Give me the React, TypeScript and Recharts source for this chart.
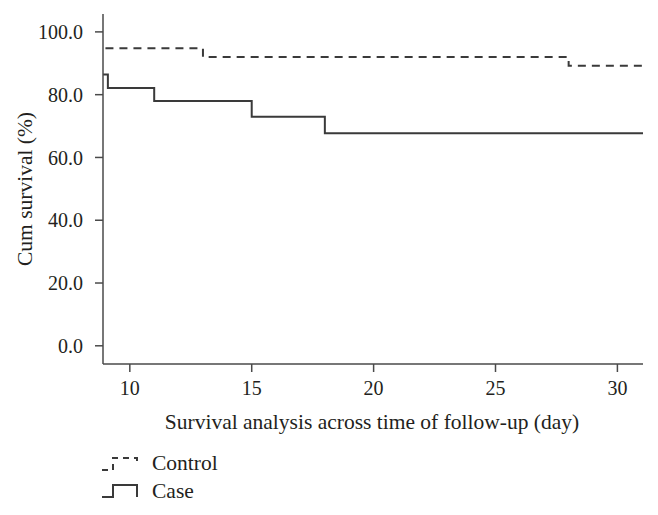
import { LineChart, Line, XAxis, YAxis } from 'recharts';

// Kaplan-Meier steps
const controlDays = [9, 13, 28, 31.05];
const controlSurvival = [94.8, 92.0, 89.2, 89.2];
const caseDays = [8.9, 9.1, 11, 15, 18, 31.05];
const caseSurvival = [86.4, 82.1, 78.0, 73.0, 67.7, 67.7];

const xTicks = [10, 15, 20, 25, 30];
const yTicks = [0, 20, 40, 60, 80, 100];
const xDomain = [8.9, 31.05];
const yDomain = [-5.8, 105.7];

const controlData = controlDays.map((d, i) => ({ day: d, value: controlSurvival[i] }));
const caseData = caseDays.map((d, i) => ({ day: d, value: caseSurvival[i] }));

const FONT = '"Liberation Serif", "DejaVu Serif", serif';
const INK = '#231f20';
const LINE = '#3a3a3a';

const YLabel = () => (
  <text
    x={32}
    y={189}
    transform="rotate(-90, 32, 189)"
    textAnchor="middle"
    fontFamily={FONT}
    fontSize={21.5}
    fill={INK}
  >
    Cum survival (%)
  </text>
);

const XLabel = () => (
  <text x={372} y={429} textAnchor="middle" fontFamily={FONT} fontSize={21.5} fill={INK}>
    Survival analysis across time of follow-up (day)
  </text>
);

const LegendBox = () => (
  <svg width={200} height={60} style={{ position: 'absolute', left: 100, top: 450 }}>
    <g stroke={LINE} strokeWidth={2} fill="none">
      <path d="M2 20 H13 V8 H37 V14" strokeDasharray="6 5" />
      <path d="M2 47 H13 V35 H37 V47" />
    </g>
    <text x={52} y={20} fontFamily={FONT} fontSize={21.5} fill={INK}>Control</text>
    <text x={52} y={48} fontFamily={FONT} fontSize={21.5} fill={INK}>Case</text>
  </svg>
);

export default function App() {
  return (
    <div style={{ position: 'relative', width: 658, height: 515, background: '#fff' }}>
      <style>{`body{margin:0}`}</style>
      <LineChart width={658} height={515} margin={{ top: 14, right: 15, left: 0, bottom: 91 }}>
        <XAxis
          dataKey="day"
          type="number"
          domain={xDomain}
          ticks={xTicks}
          allowDataOverflow
          height={60}
          tickSize={8}
          tickMargin={9}
          stroke="#4a4a4a"
          strokeWidth={1.5}
          tick={{ fontFamily: FONT, fontSize: 20, fill: INK }}
          label={<XLabel />}
        />
        <XAxis
          xAxisId="top"
          orientation="top"
          type="number"
          domain={xDomain}
          allowDataOverflow
          height={0}
          tick={false}
          tickLine={false}
          stroke="#6a6a6a"
          strokeWidth={1.5}
        />
        <YAxis
          type="number"
          domain={yDomain}
          ticks={yTicks}
          allowDataOverflow
          width={103}
          tickSize={8}
          tickMargin={12}
          stroke="#4a4a4a"
          strokeWidth={1.5}
          tickFormatter={(v: number) => v.toFixed(1)}
          tick={{ fontFamily: FONT, fontSize: 20, fill: INK }}
          label={<YLabel />}
        />
        <YAxis
          yAxisId="right"
          orientation="right"
          type="number"
          domain={yDomain}
          allowDataOverflow
          width={0}
          tick={false}
          tickLine={false}
          stroke="#a8a8a8"
          strokeWidth={1}
        />
        <Line
          data={controlData}
          dataKey="value"
          type="stepAfter"
          stroke={LINE}
          strokeWidth={2}
          strokeDasharray="8 6"
          dot={false}
          isAnimationActive={false}
        />
        <Line
          data={caseData}
          dataKey="value"
          type="stepAfter"
          stroke={LINE}
          strokeWidth={2}
          dot={false}
          isAnimationActive={false}
        />
      </LineChart>
      <LegendBox />
    </div>
  );
}
